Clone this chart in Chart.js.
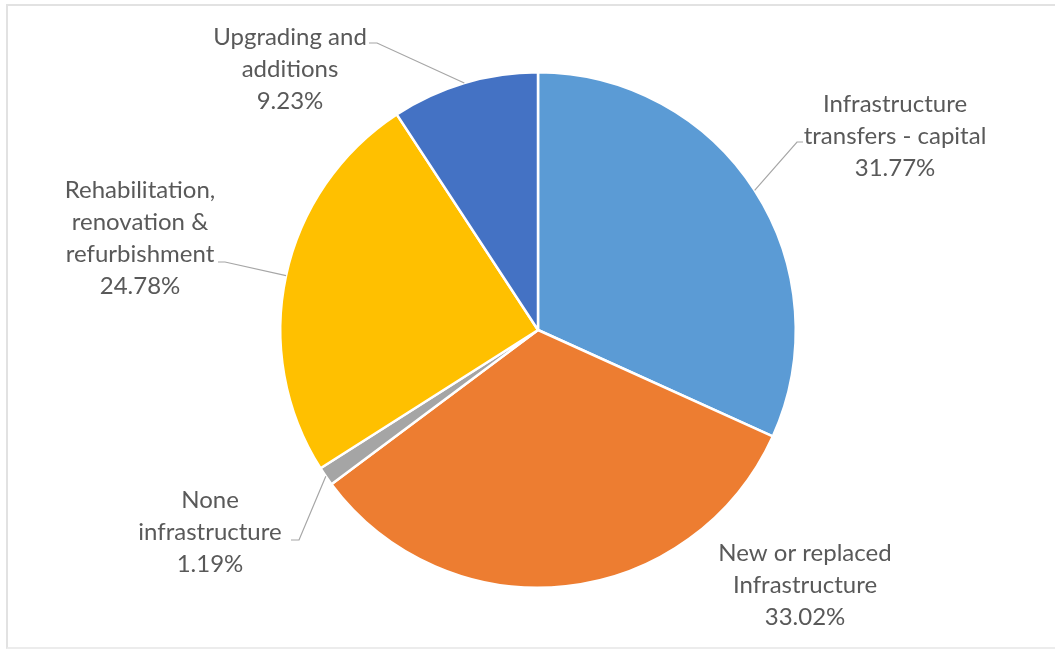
<!DOCTYPE html>
<html>
<head>
<meta charset="utf-8">
<script src="https://cdn.jsdelivr.net/npm/chart.js@4"></script>
<style>
  html, body { margin: 0; padding: 0; background: #fff; }
  #wrap { position: relative; width: 1055px; height: 649px; overflow: hidden; }
  #frame {
    position: absolute; left: 6px; top: 4px; width: 1060px; height: 641px;
    border-left: 2px solid #e2e2e2; border-top: 2px solid #e2e2e2; border-bottom: 2px solid #ececec;
  }
  #chart { position: absolute; left: 0; top: 0; }
</style>
</head>
<body>
<div id="wrap">
  <div id="frame"></div>
  <canvas id="chart" width="1055" height="649"></canvas>
</div>
<script>
// --- data ---
const categories = [
  ['Infrastructure', 'transfers - capital'],
  ['New or replaced', 'Infrastructure'],
  ['None', 'infrastructure'],
  ['Rehabilitation,', 'renovation &', 'refurbishment'],
  ['Upgrading and', 'additions']
];
const shares = [31.77, 33.02, 1.19, 24.78, 9.23];
const sliceColors = ['#5B9BD5', '#ED7D31', '#A5A5A5', '#FFC000', '#4472C4'];

// label block centre (x, first line y) and the elbow of each leader line
const labelSpots = [
  { x: 895, y: 104, elbow: [797, 142], tail: [803, 142] },
  { x: 805, y: 553, elbow: null },
  { x: 210, y: 500, elbow: [299, 540], tail: [291, 540] },
  { x: 140, y: 190, elbow: [225, 262], tail: [218, 262] },
  { x: 290, y: 37, elbow: [377, 43], tail: [369, 43] }
];

const LABEL_FONT = '24px Lato, "Open Sans", sans-serif';
const LINE_GAP = 32;

// draws the data labels and their leader lines
const pieLabels = {
  id: 'pieLabels',
  afterDatasetsDraw(chart) {
    const ctx = chart.ctx;
    const arcs = chart.getDatasetMeta(0).data;
    ctx.save();
    arcs.forEach((arc, i) => {
      const spot = labelSpots[i];
      const p = arc.getProps(['x', 'y', 'startAngle', 'endAngle', 'outerRadius'], true);
      const mid = (p.startAngle + p.endAngle) / 2;

      if (spot.elbow) {
        const ex = p.x + Math.cos(mid) * p.outerRadius;
        const ey = p.y + Math.sin(mid) * p.outerRadius;
        ctx.beginPath();
        ctx.moveTo(ex, ey);
        ctx.lineTo(spot.elbow[0], spot.elbow[1]);
        ctx.lineTo(spot.tail[0], spot.tail[1]);
        ctx.strokeStyle = '#a6a6a6';
        ctx.lineWidth = 1.2;
        ctx.stroke();
      }

      const lines = categories[i].concat([shares[i].toFixed(2) + '%']);
      ctx.font = LABEL_FONT;
      ctx.fillStyle = '#595959';
      ctx.textAlign = 'center';
      ctx.textBaseline = 'middle';
      lines.forEach((t, k) => ctx.fillText(t, spot.x, spot.y + k * LINE_GAP));
    });
    ctx.restore();
  }
};

new Chart(document.getElementById('chart'), {
  type: 'pie',
  data: {
    labels: categories,
    datasets: [{
      data: shares,
      backgroundColor: sliceColors,
      borderColor: '#ffffff',
      borderWidth: 2.5
    }]
  },
  options: {
    responsive: false,
    animation: false,
    layout: { padding: { top: 71, bottom: 60, left: 21, right: 0 } },
    plugins: {
      legend: { display: false },
      tooltip: { enabled: false }
    }
  },
  plugins: [pieLabels]
});
</script>
</body>
</html>
